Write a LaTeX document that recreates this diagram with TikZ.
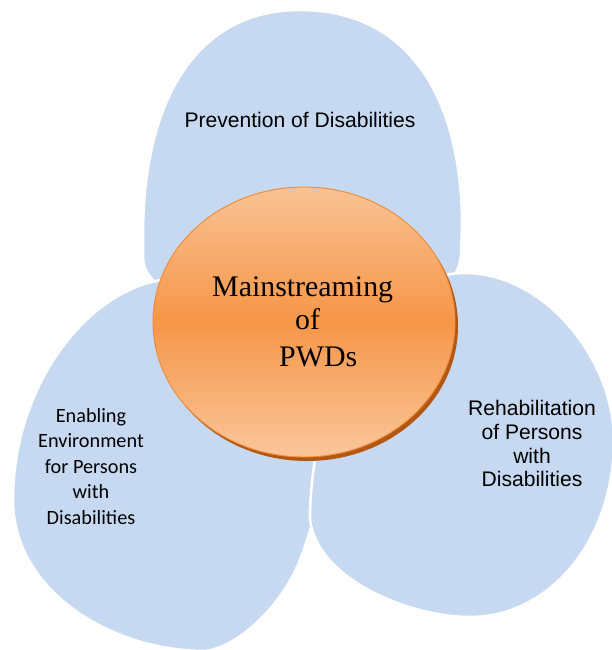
\documentclass[tikz,border=0pt]{standalone}
\usepackage{fontspec}
\usetikzlibrary{shapes.geometric}
\setmainfont{Liberation Serif}
\newfontfamily\arialf{Liberation Sans}
\newfontfamily\calibrif{Carlito}
\definecolor{blobblue}{RGB}{198,217,240}
\definecolor{orTop}{RGB}{249,194,148}
\definecolor{orMid}{RGB}{246,150,72}
\definecolor{orBot}{RGB}{250,198,155}
\definecolor{orEdge}{RGB}{238,140,58}
\definecolor{orShadow}{RGB}{178,88,18}
\tikzset{
  blob/.style={fill=blobblue, draw=white, line width=2.2pt},
  sidetext/.style={anchor=base, inner sep=0pt, font=\arialf\fontsize{18}{21}\selectfont},
  lefttext/.style={anchor=base, inner sep=0pt, font=\calibrif\fontsize{17.3}{21}\selectfont},
  maintext/.style={anchor=base west, inner sep=0pt, font=\fontsize{25.5}{30}\selectfont},
}
\begin{document}
\begin{tikzpicture}[x=0.03cm, y=-0.03cm]
\useasboundingbox (0,0) rectangle (611,650);
% top blob
\path[blob] (300,10) .. controls (410,10) and (462,100) .. (462,225)
  -- (461,255) .. controls (459,280) and (440,295) .. (400,305)
  -- (210,305) .. controls (165,295) and (144,280) .. (143,258)
  -- (143,235) .. controls (143,110) and (190,10) .. (300,10) -- cycle;
% left blob
\path[blob] (175,279) .. controls (95,280) and (13,380) .. (13,500)
  .. controls (13,590) and (110,651) .. (205,651)
  .. controls (235,648) and (280,610) .. (300,560)
  .. controls (315,520) and (322,490) .. (322,455)
  .. controls (322,330) and (260,279) .. (175,279) -- cycle;
% right blob
\path[blob] (465,273) .. controls (545,273) and (614,360) .. (614,440)
  .. controls (614,540) and (550,617) .. (470,617)
  .. controls (410,617) and (318,580) .. (310,520)
  .. controls (310,390) and (380,273) .. (465,273) -- cycle;
% centre circle
\fill[orShadow] (307,326) ellipse [x radius=151, y radius=135];
\node[ellipse, minimum width=302*0.03cm, minimum height=270*0.03cm, inner sep=0pt,
      draw=orEdge, line width=0.8pt, top color=orTop, bottom color=orBot, middle color=orMid]
      (centre) at (304,322) {};
\node[maintext] (m1) at (212,296) {Mainstreaming};
\node[maintext] (m2) at (295,329) {of};
\node[maintext] (m3) at (279,366) {PWDs};
% top label
\node[sidetext] (p1) at (300,128) {Prevention of Disabilities};
% right label
\node[sidetext] (r1) at (532,415) {Rehabilitation};
\node[sidetext] (r2) at (532,439) {of Persons};
\node[sidetext] (r3) at (532,463) {with};
\node[sidetext] (r4) at (532,486) {Disabilities};
% left label
\node[lefttext] (l1) at (91,422) {Enabling};
\node[lefttext] (l2) at (91,447) {Environment};
\node[lefttext] (l3) at (91,473) {for Persons};
\node[lefttext] (l4) at (91,498) {with};
\node[lefttext] (l5) at (91,524) {Disabilities};
\end{tikzpicture}
\end{document}
